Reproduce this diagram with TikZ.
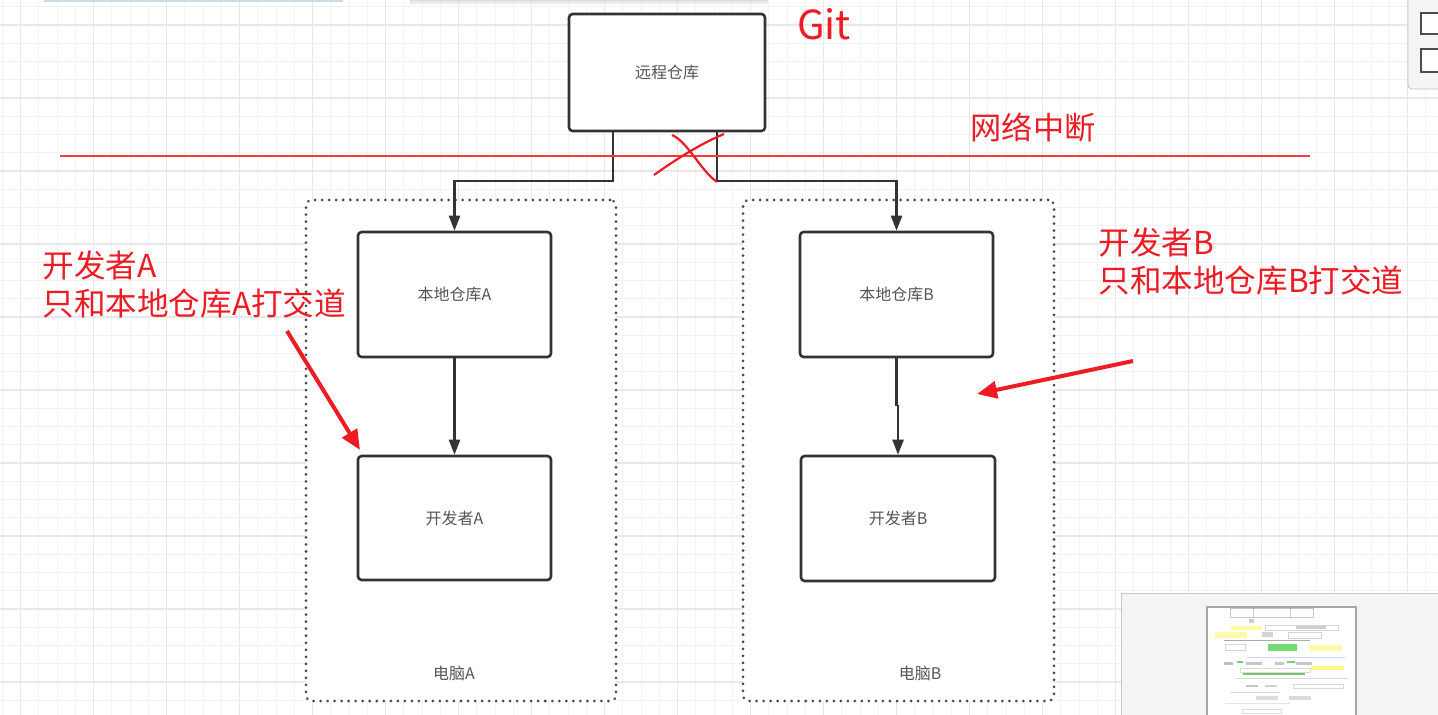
\documentclass[tikz,border=0pt]{standalone}
\usepackage{fontspec}
\setmainfont{Noto Sans CJK SC}
\usetikzlibrary{arrows.meta,calc}
\definecolor{annred}{RGB}{237,28,36}
\definecolor{linered}{RGB}{242,60,60}
\definecolor{strokegray}{RGB}{51,51,51}
\definecolor{labelgray}{RGB}{85,85,85}
\definecolor{gridminor}{RGB}{243,243,243}
\definecolor{gridmajor}{RGB}{232,232,232}
\definecolor{panelgray}{RGB}{244,244,244}
\tikzset{
  box/.style={draw=strokegray, line width=1.3pt, rounded corners=1.8pt, fill=white,
    font=\fontsize{8}{10}\selectfont, text=labelgray},
  container/.style={draw=strokegray!90, line width=1.5pt, line cap=round,
    dash pattern=on 0.01pt off 3.5pt, rounded corners=3pt, fill=white},
  conn/.style={draw=strokegray, line width=1.2pt, -{Triangle[length=7.5pt,width=5.5pt]}},
  plainconn/.style={draw=strokegray, line width=1.2pt},
  redarrow/.style={draw=annred, line width=2pt, -{Triangle[length=10pt,width=8.5pt]}},
  annot/.style={text=annred, font=\fontsize{15.8}{19}\selectfont, align=left, inner sep=0pt},
  boxlabel/.style={text=labelgray, font=\fontsize{8}{10}\selectfont, inner sep=0pt},
}
\begin{document}
\begin{tikzpicture}[x=0.5pt,y=-0.5pt]
\useasboundingbox (0,0) rectangle (1438,715);
\fill[white] (0,0) rectangle (1438,715);
% grid
\foreach \i in {0,...,78} \draw[gridminor, line width=0.5pt] (2.45+18.25*\i,0) -- ++(0,715);
\foreach \j in {0,...,39} \draw[gridminor, line width=0.5pt] (0,6.75+18.25*\j) -- ++(1438,0);
\foreach \i in {0,...,19} \draw[gridmajor, line width=0.6pt] (20.7+73*\i,0) -- ++(0,715);
\foreach \j in {0,...,9} \draw[gridmajor, line width=0.6pt] (0,25+73*\j) -- ++(1438,0);
% top edge decorations
\fill[fill={rgb,255:red,205;green,218;blue,232}] (44,0) rectangle (343,1.6);
\shade[top color=black!22, bottom color=white, opacity=0.6] (410,0) rectangle (768,5);

% containers
\node[container, minimum width=155pt, minimum height=250.5pt] (pcA) at (461,450.5) {};
\node[container, minimum width=155.5pt, minimum height=250.5pt] (pcB) at (898.5,450.5) {};
\node[boxlabel] (pcAlabel) at (454,673) {电脑A};
\node[boxlabel] (pcBlabel) at (920,673) {电脑B};

% boxes
\node[box, minimum width=98pt, minimum height=58.5pt] (remote) at (667,72.5) {远程仓库};
\node[box, minimum width=96.5pt, minimum height=62.5pt] (locA) at (454.5,294.5) {本地仓库A};
\node[box, minimum width=96.5pt, minimum height=62pt] (devA) at (454.5,518) {开发者A};
\node[box, minimum width=96.5pt, minimum height=62.5pt] (locB) at (896.5,294.5) {本地仓库B};
\node[box, minimum width=97pt, minimum height=62.5pt] (devB) at (898,518.5) {开发者B};

% connectors
\coordinate (ja) at (613,181);
\coordinate (jb) at (717,181);
\coordinate (kb) at (896.5,406);
\draw[conn] (remote.south -| ja) -- (ja) -| (locA.north);
\draw[conn] (remote.south -| jb) -- (jb) -| (locB.north);
\draw[conn] (locA.south) -- (devA.north);
\draw[plainconn] (locB.south) -- (kb);
\draw[conn] (kb) -- ++(1.5,0) -- (devB.north);

% network break line
\coordinate (netL) at (60,156);
\coordinate (netR) at (1310,156);
\draw[linered, line width=1.3pt] (netL) -- (netR);
% red X
\coordinate (xa1) at (672,135);
\coordinate (xa2) at (717,182);
\coordinate (xb1) at (654,175);
\coordinate (xb2) at (724,134);
\draw[annred, line width=1.1pt] (xa1) .. controls (688,142) and (700,170) .. (xa2);
\draw[annred, line width=1.1pt] (xb1) .. controls (675,160) and (700,144) .. (xb2);

% red texts
\node[text=annred, font=\fontsize{20}{24}\selectfont, inner sep=0pt] (git) at (824,24) {Git};
\node[text=annred, font=\fontsize{15.6}{19}\selectfont, inner sep=0pt] (net) at (1033,128) {网络中断};
\node[annot, anchor=west] (noteA) at (42,285) {开发者A\\只和本地仓库A打交道};
\node[annot, anchor=west] (noteB) at (1098,262) {开发者B\\只和本地仓库B打交道};

% red arrows
\coordinate (raA1) at (287,331);
\coordinate (raA2) at (360,450);
\coordinate (raB1) at (1133,361);
\coordinate (raB2) at (977,394);
\draw[redarrow] (raA1) -- (raA2);
\draw[redarrow] (raB1) -- (raB2);

% top-right panel
\draw[draw=black!25, fill=panelgray, rounded corners=2pt] (1408,-6) rectangle (1446,89);
\draw[draw=black!70, fill=white, line width=0.7pt] (1421,13) rectangle (1442,34);
\draw[draw=black!70, fill=white, line width=0.7pt] (1421,49) rectangle (1442,72);

% minimap
\draw[draw=black!22, fill=panelgray] (1121,593) rectangle (1446,722);
\draw[draw=black!35, fill=white, line width=0.6pt] (1207,607) rectangle (1356,722);
\begin{scope}[opacity=0.55]
\draw[black!40, line width=0.3pt] (1230,608) rectangle (1313,617);
\draw[black!40, line width=0.3pt] (1253,608) -- (1253,617) (1290,608) -- (1290,617);
\fill[black!35] (1249,619) rectangle (1254,623);
\fill[yellow!70] (1231,626) rectangle (1262,630);
\draw[black!30, line width=0.3pt] (1265,625) rectangle (1338,630);
\fill[black!35] (1296,626) rectangle (1326,629);
\fill[yellow!60] (1215,632) rectangle (1247,638);
\fill[black!30] (1262,632) rectangle (1273,637);
\draw[black!30, line width=0.3pt] (1288,632) rectangle (1321,638);
\fill[black!60] (1224,639.5) rectangle (1310,641);
\draw[black!30, line width=0.3pt] (1225,644) rectangle (1245,650);
\fill[green!75!black] (1268,644) rectangle (1297,651);
\fill[yellow!60] (1309,645) rectangle (1342,651);
\fill[blue!30] (1247,657) rectangle (1345,658);
\fill[black!45] (1224,662) rectangle (1233,665);
\fill[black!40] (1246,662) rectangle (1262,665);
\fill[black!40] (1275,662) rectangle (1284,665);
\fill[black!40] (1296,662) rectangle (1312,665);
\fill[green!70!black] (1237,661) rectangle (1243,663);
\fill[green!70!black] (1287,661) rectangle (1295,663);
\fill[yellow!90] (1311,666) rectangle (1344,670);
\draw[black!25, line width=0.3pt] (1240,668) rectangle (1310,672);
\fill[green!60!black] (1243,673) rectangle (1305,675);
\fill[black!25] (1235,678) rectangle (1348,679);
\fill[black!40] (1246,685) rectangle (1258,687);
\fill[black!30] (1265,685) rectangle (1277,687);
\draw[black!25, line width=0.3pt] (1293,684) rectangle (1343,688);
\fill[black!25] (1230,692) rectangle (1280,693);
\fill[black!25] (1256,696) rectangle (1278,700);
\fill[black!25] (1289,696) rectangle (1311,700);
\fill[black!20] (1225,703) rectangle (1290,704);
\draw[black!25, line width=0.3pt] (1242,709) rectangle (1281,713);
\end{scope}
\end{tikzpicture}
\end{document}
